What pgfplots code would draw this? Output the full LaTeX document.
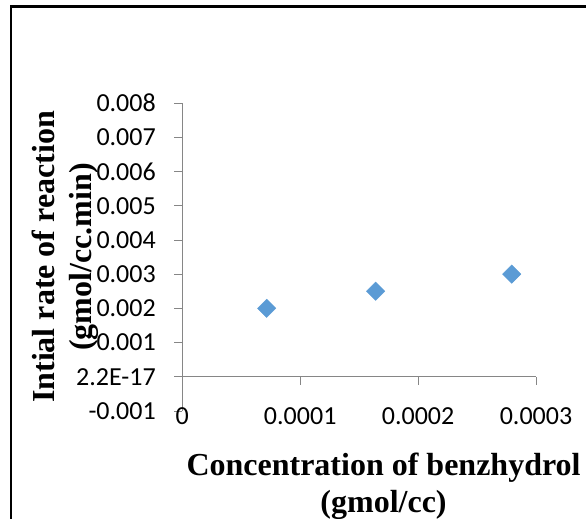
\documentclass[border=0pt]{standalone}
\usepackage{pgfplots}
\pgfplotsset{compat=1.18}
\usepackage{fontspec}
\setmainfont{Liberation Serif}
\newfontfamily\calibri{Carlito}
\definecolor{ptblue}{HTML}{5B9BD5}
\definecolor{axgray}{HTML}{868686}

\begin{document}
\begin{tikzpicture}
\begin{axis}[
  at={(0,0)}, anchor=south west,
  scale only axis,
  width=353.7bp, height=307.8bp,
  xmin=0, xmax=0.0003,
  ymin=-0.001, ymax=0.008,
  scaled ticks=false,
  axis x line=middle,
  axis y line=left,
  axis line style={-, draw=axgray, line width=0.8bp},
  hide obscured x ticks=false,
  tick align=outside,
  major tick length=8bp,
  tick style={axgray, line width=0.8bp},
  xtick={0,0.0001,0.0002,0.0003},
  xticklabels={0,0.0001,0.0002,0.0003},
  ytick={-0.001,0,0.001,0.002,0.003,0.004,0.005,0.006,0.007,0.008},
  yticklabels={-0.001,2.2E-17,0.001,0.002,0.003,0.004,0.005,0.006,0.007,0.008},
  ticklabel style={font=\calibri\fontsize{26bp}{28bp}\selectfont, text=black},
  xticklabel style={anchor=center, yshift=-31.5bp},
  yticklabel style={anchor=east, xshift=-15bp},
  xlabel={Concentration of benzhydrol\\(gmol/cc)},
  ylabel={Intial rate of reaction\\(gmol/cc.min)},
  label style={font=\bfseries\fontsize{32bp}{37bp}\selectfont, align=center},
  xlabel style={at={(axis description cs:0.569,-0.244)}, anchor=center},
  ylabel style={at={(axis description cs:-0.33,0.5)}, anchor=center},
]
\addplot[only marks, mark=square*, mark size=6.5bp,
  mark options={rotate=45, fill=ptblue, draw=ptblue}]
  coordinates {(0.0000716,0.002) (0.000164,0.0025) (0.0002794,0.003)};
\end{axis}
\draw[line width=2.2bp] (-171.3bp,-130bp) rectangle (420bp,404.4bp);
\pgfresetboundingbox
\path (-182.3bp,-108.1bp) rectangle (403.7bp,410.9bp);
\end{tikzpicture}
\end{document}
